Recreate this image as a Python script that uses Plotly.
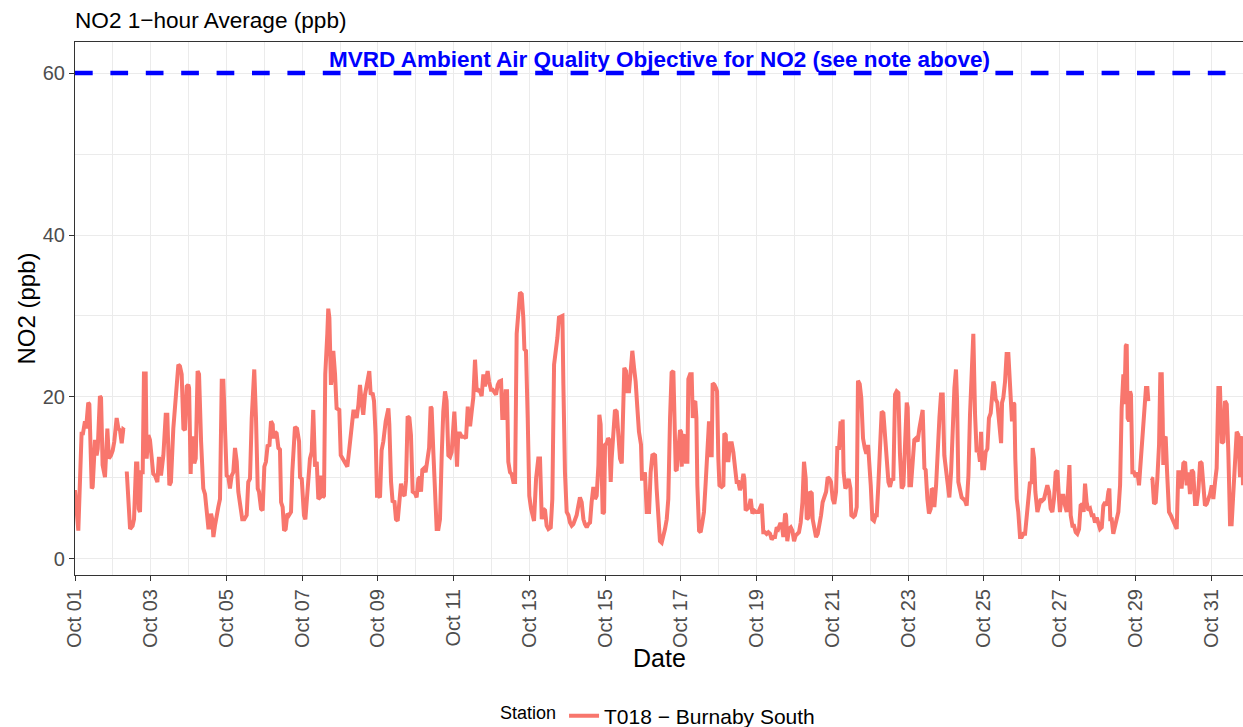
import pandas as pd
import plotly.graph_objects as go

# ---------------- data ----------------
start_date = "2023-10-01 00:00"
# hours after Oct 01 00:00 at which the hourly trace was read
hours = [
    0, 1.5, 2.1, 4.2, 4.9, 6.3, 7.0, 8.4, 9.1, 10.6, 11.2, 12.7, 13.7, 14.4, 15.8, 16.5, 17.5, 19.0,
    20.5, 21.5, 22.8, 23.9, 24.9, 26.4, 27.5, 28.5, 29.6, 30.6, 31.3, 32.0, 32.8, 34.9, 36.5, 37.4,
    38.7, 39.5, 40.4, 41.2, 41.8, 42.9, 43.7, 44.8, 45.4, 46.5, 47.5, 48.6, 49.6, 50.7, 52.2, 53.2,
    54.5, 56.0, 57.5, 58.5, 59.8, 60.8, 62.3, 64.0, 65.5, 66.5, 67.6, 68.7, 69.7, 70.8, 71.8, 72.3,
    73.3, 73.9, 75.0, 75.6, 76.5, 77.7, 78.6, 79.9, 81.3, 82.4, 83.4, 84.5, 85.6, 86.2, 87.0, 87.7,
    88.7, 89.8, 90.8, 91.9, 93.0, 94.0, 95.1, 96.1, 97.2, 98.2, 99.3, 100.3, 101.4, 102.5, 103.5,
    104.6, 106.0, 107.3, 108.8, 109.8, 110.9, 112.0, 113.6, 114.7, 115.8, 116.6, 117.9, 118.9, 120.0,
    121.0, 122.1, 123.2, 124.2, 125.3, 125.7, 126.8, 127.8, 128.9, 129.9, 130.6, 131.6, 132.5, 133.5,
    134.6, 135.6, 136.9, 137.7, 139.4, 140.7, 142.0, 142.6, 143.7,
    145.1, 146.0, 146.8, 147.9, 148.9, 150.0, 151.0, 152.1, 153.2, 154.2, 155.3, 155.9, 157.0, 157.8,
    158.6, 159.9, 160.5, 161.2, 162.2, 163.1, 163.7, 164.8, 165.8, 167.5, 168.4, 169.6, 171.1, 172.6,
    173.9, 175.3, 176.4, 177.4, 178.5, 179.6, 180.6, 181.7, 182.7, 183.8, 184.8, 185.9, 186.5, 187.4,
    188.6, 189.5, 190.5, 191.4, 192.4, 193.3, 194.3, 195.4, 196.9, 198.6, 199.2, 200.3, 201.3, 202.4,
    203.4, 204.5, 205.5, 206.6, 207.7, 208.9, 209.8, 210.8, 211.9, 212.9, 214.0, 215.5,
    216.5, 217.6, 218.6, 219.3, 220.1, 221.2, 222.2, 223.3, 224.4, 225.4, 226.0, 227.1, 228.2, 229.2,
    230.3, 231.3, 232.4, 233.4, 234.5, 235.5, 236.6, 237.7, 238.7, 239.8, 240.4, 241.3, 242.1, 242.9,
    244.0, 245.1, 246.7, 247.8, 248.9, 249.7, 250.5, 251.4, 252.4, 253.5, 254.6, 255.6, 256.7, 257.7,
    258.8, 259.8, 260.9, 261.5, 262.4, 263.6, 264.7, 265.8, 266.8, 267.9, 268.9, 270.0, 270.8, 271.7,
    272.9, 273.8, 274.6, 275.7, 276.7, 277.8, 278.9, 279.9, 281.0, 282.0, 283.1, 284.1, 284.8, 285.8,
    286.9, 287.9, 289.0, 290.1,
    290.9, 292.2, 293.6, 294.7, 295.8, 296.8, 297.9, 298.9, 300.0, 301.5, 302.5, 303.6, 304.6, 305.7,
    306.7, 308.0, 308.9, 309.5, 310.5, 311.6, 312.7, 313.7, 314.8, 315.8, 316.9, 317.9, 319.0, 320.0,
    321.1, 322.2, 323.2, 324.3, 325.3, 326.4, 327.4, 328.5, 329.6, 330.6, 331.7, 332.3, 333.1, 333.8,
    334.4, 335.3, 335.9, 337.0, 337.8, 338.6, 339.5, 340.1, 341.2, 342.2, 343.3, 344.3, 345.4, 346.5,
    347.1, 348.1, 349.2, 350.0, 351.1, 352.2, 353.2, 354.3, 355.3, 356.4, 357.4, 358.7, 359.3, 360.2,
    361.2, 362.3,
    363.8, 364.8, 365.9, 366.9, 367.6, 368.6, 369.7, 370.7, 371.8, 372.9, 373.9, 375.0, 376.0, 377.1,
    378.1, 379.2, 379.8, 380.7, 381.3, 382.4, 383.4, 384.1, 384.5, 385.5, 386.6, 387.2, 388.1, 388.7,
    389.8, 390.8, 391.5, 392.3, 393.1, 393.8, 394.4, 395.5, 396.5, 397.6, 398.6, 399.7, 400.7, 401.8,
    402.9, 403.5, 404.1, 405.2, 406.2, 406.9, 407.7, 408.4, 409.8, 410.9, 411.5, 412.4, 413.0, 414.1,
    415.1, 416.2, 417.2, 418.3, 419.3, 420.4, 421.4, 422.5, 423.6, 424.2, 425.0, 426.1, 427.1, 428.2,
    429.3, 430.3, 431.6, 433.1, 434.1, 435.2,
    436.2, 437.3, 438.3, 439.4, 440.5, 441.5, 442.6, 443.6, 444.7, 445.7, 446.8, 447.9, 448.9, 450.0,
    450.6, 451.4, 452.5, 453.6, 454.6, 455.7, 456.7, 457.8, 458.8, 459.9, 461.0, 462.0, 463.1, 463.7,
    464.8, 465.8, 466.9, 467.5, 468.6, 469.6, 470.7, 471.7, 472.8, 473.8, 474.9, 476.0, 477.0, 478.1,
    479.1, 480.2, 481.2, 482.3, 483.1, 484.2, 485.2, 485.9, 486.5, 487.1, 488.2, 489.3, 490.3, 491.4,
    492.0, 493.3, 494.3, 495.4, 496.2, 497.3, 498.3, 499.4, 500.5, 501.5, 502.6, 503.2, 504.3, 505.3,
    506.4, 507.4,
    508.1, 509.1, 510.2, 511.2, 512.3, 513.3, 514.4, 515.5, 516.5, 517.6, 518.6, 519.7, 520.7, 521.8,
    522.8, 523.9, 525.0, 526.0, 527.1, 527.7, 528.8, 529.8, 530.9, 531.9, 533.0, 534.0, 535.1, 536.2,
    537.2, 538.3, 539.1, 540.2, 541.2, 542.3, 542.9, 544.0, 544.6, 545.7, 546.7, 547.8, 548.8, 549.9,
    550.9, 552.0, 553.1, 554.1, 555.2, 556.2, 557.3, 558.3, 559.0, 559.8, 560.9, 561.9, 563.0, 564.0,
    565.1, 566.2, 567.2, 568.3, 569.3, 570.4, 571.4, 572.5, 573.5, 574.2, 575.0, 576.1, 577.1, 578.2,
    579.2, 580.3, 581.4, 582.0,
    582.6, 583.5, 584.5, 585.6, 586.2, 586.9, 587.5, 588.3, 589.4, 590.4, 591.5, 592.6, 593.2, 593.8,
    594.7, 595.3, 595.9, 596.8, 597.8, 598.9, 600.0, 601.0, 602.1, 603.1, 604.2, 605.2, 606.3, 606.9,
    607.8, 608.6, 609.9, 610.9, 612.0, 613.0, 614.1, 615.2, 616.2, 617.3, 618.3, 619.4, 620.4, 621.5,
    622.6, 623.6, 624.2, 625.3, 626.4, 627.4, 628.5, 629.5, 630.2, 631.0, 632.1, 633.1, 634.2, 635.2,
    636.3, 637.3, 638.4, 639.2, 640.1, 641.1, 642.2, 643.3, 644.3, 645.4, 646.4, 647.5, 648.5, 649.6,
    650.7, 651.7, 652.8,
    653.8, 654.9, 655.5, 656.1, 657.0, 658.0, 659.1, 660.2, 661.2, 662.3, 663.3, 664.4, 665.0, 665.9,
    666.5, 667.1, 668.0, 668.6, 669.2, 670.1, 671.1, 672.2, 673.3, 674.3, 675.4, 676.4, 677.7, 678.7,
    679.6, 680.2, 681.0, 681.8, 682.8, 683.8, 684.9, 685.9, 687.0, 687.8, 688.7, 689.3, 689.7, 690.4,
    691.2, 692.1, 693.3, 694.4, 695.4, 696.5, 697.5, 698.2, 699.2, 700.3, 701.3, 702.4, 703.5, 704.5,
    705.6, 706.6, 707.7, 708.7, 709.8, 710.9, 711.9, 713.0, 714.0, 715.1, 716.1, 717.2, 718.2, 719.3,
    720.4, 721.4, 722.5, 723.5, 724.6, 725.6, 726.7, 727.8, 728.8, 729.9, 730.9, 732.0, 733.0, 734.1,
    735.2, 736.2, 737.3, 738.3, 739.0, 739.6, 740.2,
]
no2 = [
    8.5, 3.5, 3.5, 15.7, 15.3, 17.0, 16.1, 19.3, 19.1, 8.7, 8.9, 14.7, 12.8, 13.6, 20.1, 19.9, 11.6, 10.1,
    16.1, 12.4, 12.8, 13.4, 14.5, 17.4, 16.1, 15.9, 14.3, 16.0, 15.9, None, 10.8, 3.7, 4.1, 4.9,
    11.8, 11.8, 6.2, 5.8, 10.7, 10.7, 22.9, 22.9, 12.4, 15.3, 14.7, 12.8, 10.5, 10.3, 9.5, 12.6,
    10.3, 12.8, 17.8, 17.8, 9.1, 9.5, 16.1, 20.3, 24.0, 23.8, 22.8, 16.1, 15.9, 21.3, 21.5, 21.1,
    10.5, 14.9, 14.9, 11.8, 12.4, 23.2, 22.8, 14.5, 8.7, 8.0, 5.8, 3.9, 3.9, 5.6, 4.9, 2.7,
    4.1, 5.8, 6.4, 7.4, 22.0, 22.0, 14.5, 10.3, 10.1, 8.7, 10.3, 10.7, 13.7, 12.0, 8.3,
    6.6, 4.9, 4.9, 5.4, 9.5, 9.9, 17.4, 23.4, 17.4, 8.7, 8.3, 6.2, 6.0, 11.4,
    12.0, 14.1, 13.9, 17.0, 16.6, 14.9, 15.7, 15.5, 13.7, 13.5, 7.0, 6.4, 3.5, 3.7,
    5.6, 5.4, 5.8, 10.7, 16.3, 16.1, 14.5, 10.1, 9.9,
    5.4, 4.9, 7.0, 11.4, 12.4, 13.2, 18.4, 11.4, 12.0, 7.4, 7.6, 10.3, 7.6, 7.8,
    22.8, 27.8, 30.9, 29.8, 21.5, 22.8, 25.7, 22.8, 18.6, 18.4, 12.8, 12.4, 12.0, 11.4,
    13.7, 16.6, 18.2, 18.2, 17.4, 19.0, 21.5, 19.3, 17.8, 20.3, 21.3, 22.4, 23.2, 20.3,
    20.5, 19.5, 15.3, 7.8, 7.8, 7.6, 13.4, 14.5, 17.0, 18.6, 16.6, 9.5, 7.0, 7.2,
    4.9, 4.7, 7.0, 9.3, 8.0, 7.8, 9.7, 17.6, 17.4, 15.3, 8.3, 8.1,
    7.6, 9.9, 10.1, 8.3, 11.0, 11.2, 10.7, 12.4, 13.7, 18.8, 18.6, 13.2, 6.6, 3.7,
    3.7, 4.9, 12.8, 18.2, 20.7, 19.5, 12.8, 12.6, 13.2, 16.6, 18.2, 14.9, 11.4, 15.5,
    15.5, 15.1, 15.1, 14.9, 18.8, 16.6, 16.6, 18.2, 19.9, 24.6, 20.7, 20.9, 20.7, 20.1,
    22.8, 21.3, 23.0, 23.2, 21.9, 20.9, 20.9, 20.5, 20.3, 21.5, 21.9, 22.0, 17.4, 17.4,
    20.7, 20.7, 12.0, 10.7, 10.5, 9.5, 9.5, 27.8, 31.5, 32.9, 32.7, 29.8, 25.9, 25.7,
    17.4, 7.8, 6.2, 4.9,
    4.7, 9.9, 12.4, 12.4, 4.9, 6.2, 6.0, 4.1, 3.7, 3.9, 7.4, 24.0, 25.3, 27.3,
    29.8, 30.0, 30.0, 21.5, 10.7, 5.8, 5.4, 4.5, 4.1, 4.3, 4.9, 5.4, 6.6, 7.6,
    7.0, 4.9, 4.3, 3.9, 4.3, 4.5, 7.0, 8.9, 7.4, 7.8, 11.6, 17.8, 16.6, 7.4,
    5.6, 5.8, 14.1, 14.3, 14.9, 14.7, 9.5, 12.4, 16.1, 18.4, 18.2, 15.3, 12.4, 11.8,
    15.7, 23.6, 23.2, 20.7, 20.7, 23.6, 25.7, 23.6, 21.9, 18.6, 15.7, 14.1, 9.9, 9.9,
    10.7, 5.8,
    5.8, 10.7, 12.8, 12.9, 12.8, 8.7, 4.1, 2.2, 2.0, 2.7, 3.7, 4.9, 7.4, 17.4,
    23.0, 23.2, 14.9, 11.0, 10.9, 14.1, 15.9, 15.7, 11.4, 15.1, 15.3, 12.0, 12.0, 22.2,
    22.8, 22.8, 17.4, 19.3, 19.5, 17.4, 9.1, 3.5, 3.3, 4.5, 5.8, 9.5, 12.4, 17.0,
    12.8, 12.8, 21.7, 21.5, 21.1, 20.7, 12.4, 9.1, 8.9, 9.1, 15.5, 15.3, 12.2, 12.2,
    14.3, 14.3, 13.2, 10.7, 9.5, 9.5, 8.5, 9.1, 10.5, 9.9, 6.0, 6.2, 6.4, 7.4,
    5.6, 6.0, 5.8, 5.8, 6.2, 6.8,
    3.3, 3.3, 3.1, 3.3, 3.1, 2.4, 2.7, 2.7, 3.9, 3.7, 4.3, 4.3, 2.7, 5.6,
    5.4, 2.2, 3.7, 3.9, 3.5, 2.2, 2.9, 3.1, 3.3, 4.5, 7.0, 12.0, 9.9, 4.9,
    5.1, 8.3, 8.1, 4.9, 3.3, 2.7, 3.1, 4.1, 5.4, 7.0, 7.8, 8.3, 10.1, 9.9,
    9.5, 7.4, 6.8, 8.3, 13.7, 13.7, 17.0, 14.1, 17.2, 10.7, 8.7, 9.1, 9.9, 8.7,
    5.4, 5.2, 5.4, 6.4, 22.0, 21.6, 19.9, 14.9, 13.7, 13.0, 14.1, 12.8, 9.1, 4.9,
    4.7, 5.4,
    5.4, 9.1, 13.9, 18.2, 18.0, 15.7, 12.0, 9.5, 8.9, 9.9, 9.7, 20.3, 20.7, 20.5,
    13.0, 8.7, 9.1, 15.3, 19.3, 18.7, 9.1, 9.1, 12.0, 14.7, 14.9, 14.5, 16.1, 17.4,
    18.4, 11.2, 11.0, 7.4, 5.6, 6.2, 8.7, 8.5, 6.4, 9.1, 13.7, 17.4, 20.3, 20.3,
    12.8, 11.2, 9.1, 7.6, 10.7, 16.1, 21.1, 23.4, 19.5, 9.5, 8.7, 7.6, 7.4, 7.2,
    6.6, 10.3, 17.8, 23.6, 27.8, 17.8, 13.2, 13.6, 12.0, 15.7, 11.2, 11.2, 13.2, 13.6,
    17.4, 18.0, 20.1, 21.9,
    21.5, 19.7, 19.3, 16.6, 14.5, 14.3, 19.3, 19.9, 21.9, 25.3, 25.3, 21.5, 17.4, 17.0,
    19.3, 19.1, 12.4, 7.4, 5.8, 2.7, 2.7, 3.1, 3.1, 4.9, 7.4, 9.5, 9.3, 13.7,
    12.4, 8.3, 5.8, 6.6, 7.4, 7.2, 7.4, 8.3, 9.1, 8.3, 6.2, 5.8, 7.4, 10.7,
    10.9, 7.4, 5.8, 7.8, 7.8, 6.6, 5.8, 9.1, 11.6, 5.4, 4.1, 4.1, 3.3, 3.1,
    3.7, 6.6, 6.8, 5.8, 9.3, 7.0, 6.0, 6.2, 5.4, 5.4, 4.5, 5.1, 4.5, 3.7,
    3.9, 6.6, 7.0,
    6.6, 8.3, 8.7, 4.9, 4.9, 3.1, 4.1, 5.4, 5.8, 9.1, 18.6, 22.8, 19.1, 26.3,
    26.5, 17.4, 17.0, 20.7, 20.3, 10.7, 10.7, 10.1, 10.7, 9.1, 12.4, 14.5, 18.6, 21.1,
    21.1, 19.5, None, 10.0, 9.9, 6.8, 7.0, 9.9, 14.1, 22.8, 22.8, 17.4, 11.6, 14.9,
    15.1, 10.7, 5.8, 5.4, 4.9, 4.5, 3.9, 3.7, 10.7, 10.7, 8.7, 11.8, 12.0, 9.1,
    10.7, 8.0, 11.0, 10.7, 6.8, 6.8, 8.3, 12.0, 11.8, 9.1, 6.6, 6.8, 7.4, 8.0,
    9.1, 7.4, 9.5, 11.2, 21.1, 21.1, 14.3, 14.5, 19.5, 19.1, 13.2, 4.3, 4.3, 8.3,
    13.2, 15.7, 15.3, 10.1, 14.9, 15.1, 9.1,
]
station = "T018 \u2212 Burnaby South"
objective = 60
objective_label = "MVRD Ambient Air Quality Objective for NO2 (see note above)"
y_ticks = [0, 20, 40, 60]
y_minor = [10, 30, 50]

# ---------------- build figure ----------------
t0 = pd.Timestamp(start_date)
times = [t0 + pd.Timedelta(hours=h) for h in hours]
x_end = t0 + pd.Timedelta(hours=740.2)

FONT = "Liberation Sans, Arial, sans-serif"
GRID = "#EBEBEB"
AX = "#333333"

W, H = 1243, 727
PLOT_H = 727 - 42 - 152

fig = go.Figure()
fig.add_trace(go.Scatter(
    x=times, y=no2, mode="lines", name=station,
    line=dict(color="#F8766D", width=4),
    connectgaps=False,
))

fig.add_shape(type="line", xref="paper", x0=0, x1=1, yref="y", y0=objective, y1=objective,
              line=dict(color="#0000FF", width=4.4, dash="17.7px,17.7px"), layer="above")
fig.add_annotation(xref="paper", x=0.5, yref="y", y=objective, yanchor="bottom", yshift=-1,
                   text="<b>" + objective_label + "</b>", showarrow=False,
                   font=dict(family=FONT, size=22.5, color="#0000FF"))
# x-axis title
fig.add_annotation(xref="paper", x=0.5, yref="paper", y=-(658 - 575) / PLOT_H, yanchor="middle",
                   text="Date", showarrow=False, font=dict(family=FONT, size=25, color="black"))

fig.update_layout(
    width=W, height=H,
    margin=dict(l=75, r=0, t=42, b=152, autoexpand=False),
    paper_bgcolor="white", plot_bgcolor="white",
    font=dict(family=FONT, color="black"),
    title=dict(text="NO2 1\u2212hour Average (ppb)", xref="paper", x=0, xanchor="left",
               yref="container", y=1 - 20 / H, yanchor="middle",
               font=dict(family=FONT, size=22.6, color="black")),
    showlegend=True,
    legend=dict(orientation="h", xref="paper", x=0.5, xanchor="center",
                yref="paper", y=-141 / PLOT_H, yanchor="middle",
                title=dict(text="Station", side="left", font=dict(size=18, color="black")),
                font=dict(family=FONT, size=21, color="black"),
                bgcolor="rgba(0,0,0,0)"),
    xaxis=dict(
        type="date", range=[t0, x_end], autorange=False,
        tick0=t0, dtick=2 * 86400000, tickformat="%b %d", tickangle=-90,
        ticks="outside", ticklen=5, tickcolor=AX, tickwidth=1.1,
        tickfont=dict(family=FONT, size=20, color="#4D4D4D"),
        showline=True, linecolor=AX, linewidth=1.2, mirror=True,
        showgrid=True, gridcolor=GRID, gridwidth=1.3,
        minor=dict(dtick=86400000, tick0=t0, showgrid=True, gridcolor=GRID, gridwidth=0.7, ticks=""),
        zeroline=False, automargin=False,
    ),
    yaxis=dict(
        range=[-1.98, 63.83], autorange=False,
        tickmode="array", tickvals=y_ticks, ticktext=[str(v) for v in y_ticks],
        ticks="outside", ticklen=5, tickcolor=AX, tickwidth=1.1,
        tickfont=dict(family=FONT, size=20, color="#4D4D4D"),
        showline=True, linecolor=AX, linewidth=1.2, mirror=False,
        showgrid=True, gridcolor=GRID, gridwidth=1.3,
        minor=dict(tickvals=y_minor, showgrid=True, gridcolor=GRID, gridwidth=0.7, ticks=""),
        zeroline=False, automargin=False,
        title=dict(text="NO2 (ppb)", standoff=0, font=dict(family=FONT, size=24, color="black")),
    ),
)

# remove the browser's default 8px page margin so the figure fills the window exactly
fig.write_html("out.html",
               config={"displayModeBar": False},
               post_script="document.body.style.margin='0px';document.body.style.overflow='hidden';")
